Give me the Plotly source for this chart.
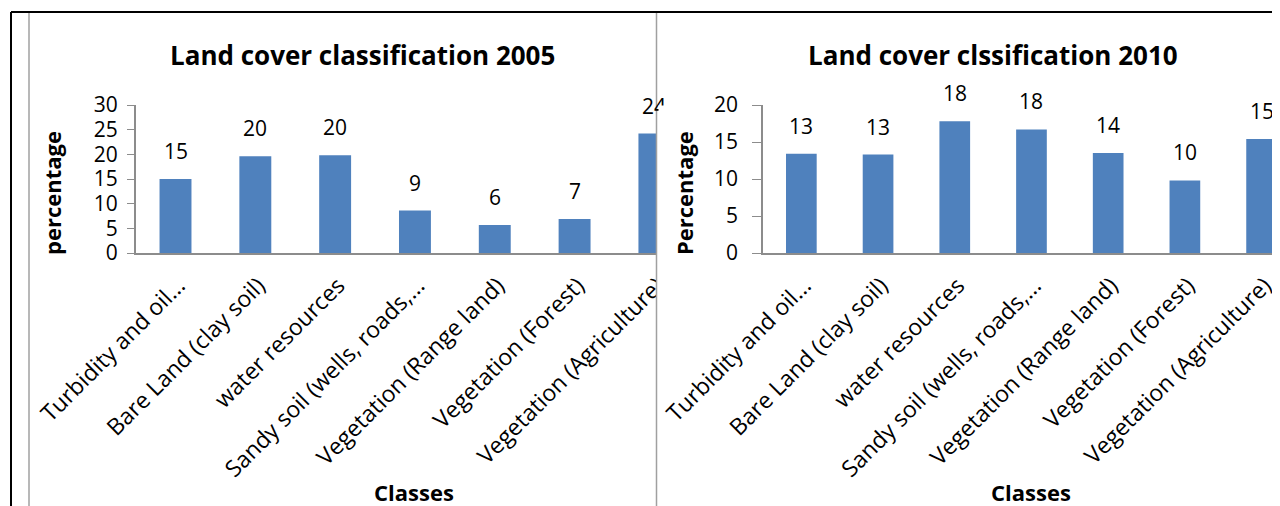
import plotly.graph_objects as go

# Land cover classes (x categories)
classes = [
    "Turbidity and oil...",
    "Bare Land (clay soil)",
    "water resources",
    "Sandy soil (wells, roads,...",
    "Vegetation (Range land)",
    "Vegetation (Forest)",
    "Vegetation (Agriculture)",
]

# bar heights (percentage)
pct_2005 = [15.0, 19.6, 19.8, 8.6, 5.7, 6.9, 24.2]
pct_2010 = [13.4, 13.3, 17.8, 16.7, 13.5, 9.8, 15.4]

# data labels as printed above the bars
labels_2005 = [15, 20, 20, 9, 6, 7, 24]
labels_2010 = [13, 13, 18, 18, 14, 10, 15]

yticks_2005 = [0, 5, 10, 15, 20, 25, 30]
yticks_2010 = [0, 5, 10, 15, 20]

# the page body has an 8px margin, so the figure is drawn 8px in from the corner
OFF = 8
W, H = 1280 - OFF, 506 - OFF
FONT = "Open Sans"
BAR = "#4F81BD"
AXIS = "#8C8C8C"


def px(x):
    return (x - OFF) / W


def py(y):
    return 1 - (y - OFF) / H


fig = go.Figure()
fig.add_trace(go.Bar(x=classes, y=pct_2005, width=0.4, marker_color=BAR,
                     xaxis="x", yaxis="y", showlegend=False))
fig.add_trace(go.Bar(x=classes, y=pct_2010, width=0.4, marker_color=BAR,
                     xaxis="x2", yaxis="y2", showlegend=False))

annotations = []
# value labels above bars
for xref, yref, vals, labs in [("x", "y", pct_2005, labels_2005),
                               ("x2", "y2", pct_2010, labels_2010)]:
    for c, v, lab in zip(classes, vals, labs):
        annotations.append(dict(x=c, y=v, xref=xref, yref=yref, text=str(lab),
                                showarrow=False, yanchor="bottom", yshift=12,
                                font=dict(family=FONT, size=21, color="black")))

# white cover so the left chart is clipped by the right one
annotations.append(dict(x=px(657.5), y=py(105), xref="paper", yref="paper",
                        xanchor="left", yanchor="top", text=" ", width=14, height=40,
                        bgcolor="white", borderpad=0, showarrow=False))

bold = dict(family=FONT, color="black", weight="bold")
# chart titles
for x, t in [(362, "Land cover classification 2005"), (993, "Land cover clssification 2010")]:
    annotations.append(dict(x=px(x), y=py(55), xref="paper", yref="paper", text=t,
                            xanchor="center", yanchor="middle", showarrow=False,
                            font=dict(size=26, **bold)))
# axis titles
for x, t in [(52, "percentage"), (684, "Percentage")]:
    annotations.append(dict(x=px(x), y=py(193), xref="paper", yref="paper", text=t,
                            xanchor="center", yanchor="middle", textangle=-90,
                            showarrow=False, font=dict(size=22, **bold)))
for x in [414, 1031]:
    annotations.append(dict(x=px(x), y=py(492), xref="paper", yref="paper", text="Classes",
                            xanchor="center", yanchor="middle", showarrow=False,
                            font=dict(size=22, **bold)))

shapes = [
    # clip cover for the last rotated label running past the divider
    dict(type="rect", xref="paper", yref="paper", x0=px(657), x1=px(672), y0=py(330), y1=py(255),
         fillcolor="white", line_width=0, layer="above"),
    # outer frame
    dict(type="line", xref="paper", yref="paper", x0=px(11), x1=px(11), y0=0, y1=py(12),
         line=dict(color="black", width=2), layer="above"),
    dict(type="line", xref="paper", yref="paper", x0=px(11), x1=px(1275), y0=py(12), y1=py(12),
         line=dict(color="black", width=2), layer="above"),
    dict(type="line", xref="paper", yref="paper", x0=px(1275), x1=1, y0=py(12), y1=py(12),
         line=dict(color="#A0A0A0", width=1.5), layer="above"),
    dict(type="line", xref="paper", yref="paper", x0=px(29), x1=px(29), y0=0, y1=py(13),
         line=dict(color="#A0A0A0", width=1.5), layer="above"),
    dict(type="line", xref="paper", yref="paper", x0=px(656.5), x1=px(656.5), y0=0, y1=py(13),
         line=dict(color="#A0A0A0", width=1.5), layer="above"),
]

tickfont = dict(family=FONT, size=23, color="black")
xcommon = dict(type="category", showline=True, linecolor=AXIS, linewidth=2, ticks="",
               tickangle=-45, tickfont=tickfont, showgrid=False, zeroline=False,
               automargin=False, ticklabelstandoff=8, ticklabelshift=3)
ycommon = dict(showline=True, linecolor=AXIS, linewidth=1.5, ticks="outside",
               tickcolor=AXIS, showgrid=False, zeroline=False, automargin=False,
               tickfont=dict(family=FONT, size=21, color="black"))

fig.update_layout(
    template="none",
    width=W, height=H,
    margin=dict(l=0, r=0, t=0, b=0),
    paper_bgcolor="white", plot_bgcolor="white",
    bargap=0.6,
    xaxis=dict(domain=[px(135.6), px(656)], range=[-0.5, 6.02], anchor="y", **xcommon),
    yaxis=dict(domain=[py(253), py(105)], range=[0, 30], tickvals=yticks_2005, ticklen=7,
               anchor="x", ticklabelstandoff=5, **ycommon),
    xaxis2=dict(domain=[px(763), 1.0], range=[-0.5, 6.24], anchor="y2", **xcommon),
    yaxis2=dict(domain=[py(253), py(105)], range=[0, 20], tickvals=yticks_2010, ticklen=9,
                anchor="x2", ticklabelstandoff=10, **ycommon),
    annotations=annotations,
    shapes=shapes,
)

fig.write_html("out.html")
